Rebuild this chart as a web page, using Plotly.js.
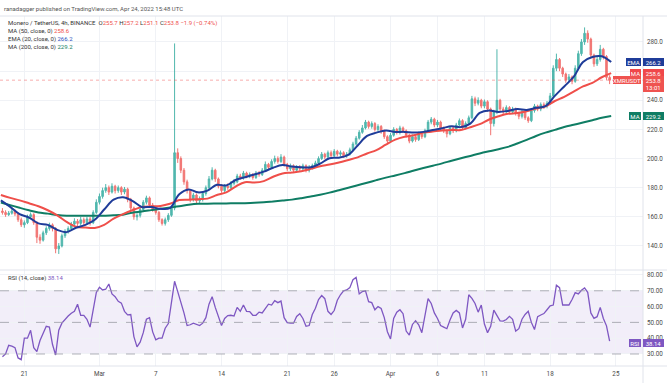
<!DOCTYPE html>
<html><head><meta charset="utf-8">
<script src="https://cdn.plot.ly/plotly-3.0.1.min.js"></script>
<style>html,body{margin:0;padding:0;background:#fff;}#chart{width:667px;height:383px;}</style>
</head><body><div id="chart"></div>
<script>
// ---- Data (8h resampled bars) ----
const opens=[164,163,161.5,162.5,164,162,158,154.5,156,160,161.5,156,146,144,149,152,154.5,152,138,140,147,150,152,155,157,155.5,158,156,158.5,156,163,170,174,178,180,177,181,178,180,177,179,172,166,160,161,165,170,173,168,165,163,158,155.5,158,161,166,204,200,192,184,178,172,175,171,172,176,180,186,192,186,181,178,181,180,183,184,188,187,190,188,189,187,190,189,192,196,194,198,200,198,201,196,193,195,192,194,193,195,192,194,195,197,200,203,201,204,202,205,203,204,202,203,206,210,214,218,221,225,222,224,220,222,219,215,212,216,220,218,221,219,216,212,215,213,217,215,219,225,227,223,225,221,219,217,221,219,223,226,221,224,228,241,238,240,236,239,234,224,232,240,234,232,235,232,234,231,229,232,228,226,233,236,234,237,236,238,243,262,268,262,258,254,256,253,262,272,280,286,282,271,265,268,275,270,255.7];
const closes=[163,161.5,162.5,164,162,158,154.5,156,160,161.5,156,146,144,149,152,154.5,152,138,140,147,150,152,155,157,155.5,158,156,158.5,156,163,170,174,178,180,177,181,178,180,177,179,172,166,160,161,165,170,173,168,165,163,158,155.5,158,161,166,204,200,192,184,178,172,175,171,172,176,180,186,192,186,181,178,181,180,183,184,188,187,190,188,189,187,190,189,192,196,194,198,200,198,201,196,193,195,192,194,193,195,192,194,195,197,200,203,201,204,202,205,203,204,202,203,206,210,214,218,221,225,222,224,220,222,219,215,212,216,220,218,221,219,216,212,215,213,217,215,219,225,227,223,225,221,219,217,221,219,223,226,221,224,228,241,238,240,236,239,234,224,232,240,234,232,235,232,234,231,229,232,228,226,233,236,234,237,236,238,243,262,268,262,258,254,256,253,262,272,280,286,282,271,265,268,275,270,255.7,253.8];
const highs=[166,164.5,164,166,165,163,159.5,157.5,161.5,163,162.5,157,148,150.5,153.5,156,155.5,153,142,148.5,151.5,153.5,156.5,159,158.5,160,159.5,160,160,164.5,172,176,180,182.5,181.5,183,182,181.5,181,180.5,180,173,167,162.5,166.5,171.5,174.5,174,169.5,166.5,164,159,159.5,162.5,167.5,279,207,201.5,193.5,185.5,179,176.5,176,174,177.5,181.5,188,194,193,187,182.5,182.5,183,184.5,186,189.5,189.5,191.5,191,190.5,190,191.5,191.5,193.5,198,197,199.5,202,201.5,203,202,197,196.5,196,195.5,195.5,196.5,196,195.5,196.5,198.5,201.5,204.5,204,205.5,205.5,206.5,206,205.5,205,204.5,207.5,211.5,215.5,219.5,223,226.5,226,225.5,225,223.5,223,220,216,217.5,221.5,221,222.5,222,220,217,216.5,216,218.5,218,220.5,226.5,228.5,228,226.5,226,222,220,222.5,222,224.5,227.5,227,225.5,229.5,243,242.5,242,241,240.5,240,235,233.5,275,241,235.5,236.5,236,235.5,235,232,233.5,233,229,234.5,237.5,237,238.5,238.5,239.5,245,264,272,269,263,259,258,257,264,274,282,290,288,283,272,270,278,276,271,257.2];
const lows=[161.5,160,160.5,161.5,160.5,156.5,153,152.5,155,158.5,154.5,142,141.5,143,147.5,150.5,150,135,134.5,139,145.5,148.5,150.5,153.5,153.5,154,154,154.5,154,155,162,168.5,172.5,176.5,175,176,176,176.5,175,175.5,170,164,158,157.5,159.5,164,168.5,166.5,163.5,161.5,156.5,154,154,156.5,160,164.5,197,190,182,176,170,170.5,169,169.5,170.5,174.5,179,185,184,179.5,176.5,176.5,178.5,179,181.5,183,185.5,185.5,186.5,186.5,185.5,186,187.5,188,191,192.5,193,196.5,196.5,197,194.5,191.5,191.5,190.5,190.5,191.5,191.5,190.5,190.5,192.5,193.5,196,199,199.5,200,200.5,201,201.5,201.5,200.5,200.5,202,205,209,213,217,220,220.5,220.5,218.5,218.5,217,213.5,210.5,211,215,216.5,216.5,217.5,214.5,210.5,211,211.5,212,213.5,214,218,223.5,221.5,221.5,219.5,217.5,214.5,216,217.5,218,222,219.5,220,223,227,236,236.5,234.5,234.5,232,216,222,230.5,232.5,230,230.5,230.5,230.5,229.5,227,227.5,226.5,224.5,225,231.5,232.5,232.5,234,234.5,237,242,260,260,256,252,252.5,251,252,260.5,270.5,278,279.5,269,263,263.5,266.5,268,254,251.1];
const rsi14=[28.3,30,35.5,35,34,27.5,26.4,40,40,45,34,31.5,38.5,43,47.5,47,36,29.4,45,49.5,52,54,55.8,57,61.5,54.5,54.5,52,47,59,69,72.3,70.5,71,74.3,68,66.3,63.3,62.2,57,54.8,55,41,34.5,37.5,43.5,52,53,44,39,40,40,46.3,49.3,64,76,69.5,63,56,48,48.5,49.5,48.5,48,49.5,53,61.5,66.3,59.5,54,48,52.5,54.3,54.5,54,59.5,57,61,57,56.8,54.5,54.5,56.5,56,59,61.5,61,63.8,62.5,63.5,53,49.8,49.5,49.5,53.8,55.5,52.5,47.5,48,55,59,64.5,67,65,57,55,57.5,64,67.5,70,70.5,72,77,78.5,68,69.5,70,63.1,62.5,58,60,58.8,53,44.1,39.5,52.5,56.5,58,55.5,44.5,42,48.7,51,48.5,43.5,55,65,62,56,52.5,48,47,46,51.5,56,57.6,56,46.5,52,67.5,65.2,62,56.5,61,49,43.5,47.5,57.8,54.5,51,50.8,51.8,53.8,52,44.5,46,52,55,57,50,45.5,53.6,54.7,55.6,58,60.5,61,73.5,72,61,61,61,64.5,68.8,68,70.3,71.8,69,56,52.6,53.6,59.5,52.5,47.8,38.14];
// daily samples of the moving averages
const ema20=[171.3,166.8,161.8,159.5,155.5,154.5,151,149.5,152.5,154.5,158,165,171.8,173.5,171,166.8,166.8,165.5,166,175.5,178.8,176.8,178,182,181.5,185.3,187.2,189,191,193.7,195.5,194.5,194,194,196.5,200.2,200.6,202.5,209,215.5,217.8,219.3,218.3,218.3,217.8,218.3,219.6,220.8,222.2,221.6,224,231.3,233,232,232.7,234,233.4,234.8,236,243,249.5,256,266.3,269.7,270.2,266.2];
const ma50=[175,173,171.3,169.3,167.3,164.5,161,156.5,153.2,152.6,152.4,154.5,158.8,161.8,164.5,166.8,167.2,167.5,169,171.5,171.8,172.1,172.5,175,176.8,180.8,183.8,183.5,184.5,187.5,189.8,190.4,191.3,192.9,194.7,195.9,197.3,199,200.8,203.5,205.8,209.5,213,215,216,217.8,218.5,219.3,219.6,219.6,221.5,223.6,226.8,229,230.7,231.2,232.5,234.4,235.8,239.5,242.3,245.9,249.5,251.9,255.8,258.6];
const ma200=[169.8,168,166.2,164.5,163,162.2,161.2,160.7,160.7,160.7,160.7,160.8,161,161.5,162.8,163.6,164.6,165.6,166.4,167.2,168.3,169,169,169.1,169.2,169.3,169.4,169.6,170,170.6,171.2,171.8,172.8,174,175.2,176.6,178.3,180,181.7,183.4,185.2,186.9,188.4,190,191.8,193.5,195.1,196.7,198.5,200.2,201.8,203.5,205,206.4,208,210.3,212.8,215.5,217.8,219.7,221.7,223.2,224.7,226.3,228,229.2];
const tickDates=['2022-02-21','2022-03-01','2022-03-07','2022-03-14','2022-03-21','2022-03-26','2022-04-01','2022-04-06','2022-04-11','2022-04-18','2022-04-25'];
const tickLabels=['21','Mar','7','14','21','26','Apr','6','11','18','25'];
const priceTicks=[140,160,180,200,220,240,260,280];
const priceTickText=['140.0','160.0','180.0','200.0','220.0','240.0','','280.0']; // 260.0 sits under the MA tag in the reference
const rsiTicks=[30,40,50,60,70,80];
const lastTime='13:01';

// ---- build ----
function fmt(ms){return new Date(ms).toISOString().slice(0,19).replace('T',' ');}
const barStart=Date.UTC(2022,1,18,16,0,0), maStart=Date.UTC(2022,1,18,12,0,0);
const barTimes=closes.map((_,i)=>fmt(barStart+i*8*3600000));
const maTimes=ema20.map((_,i)=>fmt(maStart+i*86400000));
const last=a=>a[a.length-1];

const UP='#26a69a', DN='#ef5350', C50='#ef4f4a', CEMA='#1f3c99', C200='#0f7d64', CRSI='#7e57c2';
const traces=[
 {type:'candlestick',x:barTimes,open:opens,high:highs,low:lows,close:closes,xaxis:'x',yaxis:'y',
  increasing:{line:{color:UP,width:1},fillcolor:UP},decreasing:{line:{color:DN,width:1},fillcolor:DN},
  whiskerwidth:0,opacity:0.8,hoverinfo:'skip',showlegend:false},
 {type:'scatter',mode:'lines',x:maTimes,y:ma200,line:{color:C200,width:2,shape:'spline',smoothing:1},yaxis:'y',hoverinfo:'skip',showlegend:false},
 {type:'scatter',mode:'lines',x:maTimes,y:ma50,line:{color:C50,width:2,shape:'spline',smoothing:1},yaxis:'y',hoverinfo:'skip',showlegend:false},
 {type:'scatter',mode:'lines',x:maTimes,y:ema20,line:{color:CEMA,width:2,shape:'spline',smoothing:1},yaxis:'y',hoverinfo:'skip',showlegend:false},
 {type:'scatter',mode:'lines',x:barTimes,y:rsi14,line:{color:CRSI,width:1.3},xaxis:'x',yaxis:'y2',hoverinfo:'skip',showlegend:false}
];

const W=643, PB=366, PH=350;
const px=x=>x/W, py=y=>(PB-y)/PH;
const FONT='Roboto, "Liberation Sans", sans-serif';
const GRID='#f0f2f6', FR='#e0e3eb';
const ann=[];
function txt(x,y,t,size,color){ann.push({xref:'paper',yref:'paper',x:px(x),y:py(y),xanchor:'left',yanchor:'middle',text:t,showarrow:false,font:{size:size||6,color:color||'#4a4a4a',family:FONT}});}
const red=s=>'<span style="color:'+DN+'">'+s+'</span>';
const chg=(last(closes)-last(opens));
txt(2,8.3,'ranadagger published on TradingView.com, Apr 24, 2022 15:48 UTC',6,'#555');
txt(6,23.3,'Monero / TetherUS, 4h, BINANCE  O'+red(last(opens).toFixed(1))+' H'+red(last(highs).toFixed(1))+' L'+red(last(lows).toFixed(1))+' C'+red(last(closes).toFixed(1))+' '+red(chg.toFixed(1).replace('-','−')+' ('+(chg/last(opens)*100).toFixed(2).replace('-','−')+'%)'),6,'#333');
txt(6,30.9,'MA (50, close, 0) <span style="color:'+C50+'">'+last(ma50).toFixed(1)+'</span>',6,'#333');
txt(6,38.6,'EMA (20, close, 0) <span style="color:#2a4fc0">'+last(ema20).toFixed(1)+'</span>',6,'#333');
txt(6,46.6,'MA (200, close, 0) <span style="color:'+C200+'">'+last(ma200).toFixed(1)+'</span>',6,'#333');
txt(6,277.5,'RSI (14, close) <span style="color:'+CRSI+'">'+last(rsi14).toFixed(2)+'</span>',6,'#333');

function tag(label,lw,val,color,yref,yv,h,yshift,anchor){
 ann.push({xref:'paper',yref:yref,x:1,y:yv,xanchor:'left',yanchor:anchor||'middle',yshift:yshift||0,text:val,showarrow:false,bgcolor:color,width:21,height:h||8,borderpad:0,borderwidth:0,align:'center',font:{size:6,color:'#fff',family:FONT}});
 ann.push({xref:'paper',yref:yref,x:1,y:yv,xanchor:'right',xshift:-2,yanchor:anchor||'middle',yshift:yshift||0,text:label,showarrow:false,bgcolor:color,width:lw,height:8,borderpad:0,borderwidth:0,align:'center',font:{size:6,color:'#fff',family:FONT}});
}
tag('EMA',15,last(ema20).toFixed(1),CEMA,'y',last(ema20));
tag('MA',11,last(ma50).toFixed(1),'#f0474a','y',last(ma50));
tag('MA',12,last(ma200).toFixed(1),C200,'y',last(ma200));
tag('RSI',12,last(rsi14).toFixed(2),CRSI,'y2',last(rsi14),8,-2);
// current price tag (two-line)
ann.push({xref:'paper',yref:'y',x:1,y:last(closes),xanchor:'left',yanchor:'top',yshift:4,text:last(closes).toFixed(1)+'<br>'+lastTime,showarrow:false,bgcolor:DN,width:21,height:16,borderpad:0,borderwidth:0,align:'center',font:{size:6,color:'#fff',family:FONT}});
ann.push({xref:'paper',yref:'y',x:1,y:last(closes),xanchor:'right',xshift:-2,yanchor:'top',yshift:4,text:'XMRUSDT',showarrow:false,bgcolor:DN,width:28,height:8,borderpad:0,borderwidth:0,align:'center',font:{size:6,color:'#fff',family:FONT}});

const SEP=py(270);
const shapes=[
 {type:'rect',xref:'paper',yref:'y2',x0:0,x1:1,y0:30,y1:70,fillcolor:'rgba(126,87,194,0.1)',line:{width:0},layer:'below'},
 {type:'line',xref:'paper',yref:'y2',x0:0,x1:1,y0:70,y1:70,line:{color:'#9a9ca6',width:0.8,dash:'dash'}},
 {type:'line',xref:'paper',yref:'y2',x0:0,x1:1,y0:50,y1:50,line:{color:'#9a9ca6',width:0.8,dash:'dash'}},
 {type:'line',xref:'paper',yref:'y2',x0:0,x1:1,y0:30,y1:30,line:{color:'#9a9ca6',width:0.8,dash:'dash'}},
 {type:'line',xref:'paper',yref:'y',x0:0,x1:1,y0:last(closes),y1:last(closes),line:{color:'rgba(239,83,80,0.6)',width:0.8,dash:'dot'}},
 {type:'line',xref:'paper',yref:'paper',x0:0,x1:667/W,y0:1,y1:1,line:{color:FR,width:1}},
 {type:'line',xref:'paper',yref:'paper',x0:0,x1:667/W,y0:SEP,y1:SEP,line:{color:FR,width:1}},
 {type:'line',xref:'paper',yref:'paper',x0:0,x1:667/W,y0:0,y1:0,line:{color:FR,width:1}},
 {type:'line',xref:'paper',yref:'paper',x0:1,x1:1,y0:-17/PH,y1:1,line:{color:FR,width:1}}
];

const layout={
 width:667,height:383,margin:{l:0,r:24,t:16,b:17},paper_bgcolor:'#fff',plot_bgcolor:'#fff',
 font:{family:FONT,size:6,color:'#4a4a4a'},showlegend:false,hovermode:false,dragmode:false,
 xaxis:{type:'date',anchor:'y2',range:['2022-02-18 09:46','2022-04-27 21:20'],tickvals:tickDates,ticktext:tickLabels,
  showgrid:true,gridcolor:GRID,gridwidth:1,zeroline:false,showline:false,ticks:'',tickfont:{size:6.3,color:'#4a4a4a'},
  rangeslider:{visible:false},ticklabelstandoff:3,fixedrange:true},
 yaxis:{domain:[SEP,1],side:'right',range:[123.5,297.84],tickvals:priceTicks,ticktext:priceTickText,
  showgrid:true,gridcolor:GRID,zeroline:false,showline:false,ticks:'',tickfont:{size:6.3,color:'#4a4a4a'},ticklabelstandoff:3,fixedrange:true},
 yaxis2:{domain:[0,SEP],side:'right',anchor:'x',range:[22.4,83.16],tickvals:rsiTicks,ticktext:rsiTicks.map(v=>v.toFixed(2)),
  showgrid:true,gridcolor:GRID,zeroline:false,showline:false,ticks:'',tickfont:{size:6.3,color:'#4a4a4a'},ticklabelstandoff:3,fixedrange:true},
 annotations:ann,shapes:shapes
};
Plotly.newPlot('chart',traces,layout,{displayModeBar:false,staticPlot:true});
</script></body></html>
